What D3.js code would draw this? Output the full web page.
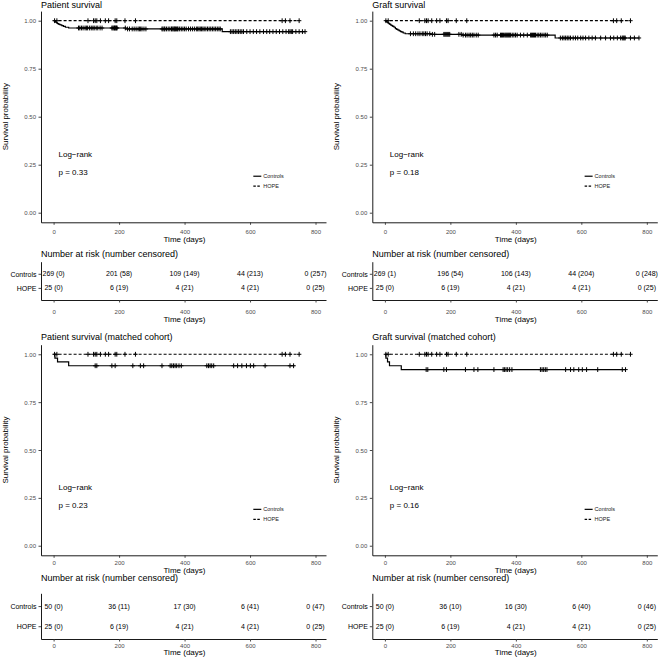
<!DOCTYPE html>
<html><head><meta charset="utf-8">
<script src="https://cdn.jsdelivr.net/npm/d3@7"></script>
<style>
body{margin:0;background:#fff}
svg{display:block}
text{font-family:"Liberation Sans",Arial,Helvetica,sans-serif}
</style>
</head><body>
<svg id="chart" width="658" height="658"></svg>
<script>
// ---------------- DATA ----------------
const groups = ["Controls", "HOPE"];
const panelTitles = ["Patient survival", "Graft survival",
  "Patient survival (matched cohort)", "Graft survival (matched cohort)"];
const logRankLabel = "Log\u2212rank";
const pLabels = ["p = 0.33", "p = 0.18", "p = 0.23", "p = 0.16"];
const timeTicks = [0, 200, 400, 600, 800];
const survTicks = [0, 0.25, 0.5, 0.75, 1];
const survTickLabels = ["0.00", "0.25", "0.50", "0.75", "1.00"];
const riskTitle = "Number at risk (number censored)";
const xTitle = "Time (days)";
const yTitle = "Survival probability";

// HOPE arm (same in all panels)
const hopeTimes = [0];
const hopeSurv = [1];
const hopeEnd = 750;
const hopeCensor = [3, 10, 105, 122, 127, 132, 143, 158, 168, 188, 193, 218, 250, 698, 708, 722, 750];
const hopeRisk = ["25 (0)", "6 (19)", "4 (21)", "4 (21)", "0 (25)"];

// Panel 1: Patient survival, Controls
const pat1Times = [0, 3, 6, 9, 12, 16, 20, 25, 30, 36, 46, 220, 515];
const pat1Surv = [1, 0.996, 0.993, 0.989, 0.985, 0.981, 0.978, 0.974, 0.970, 0.966, 0.962, 0.957, 0.943];
const pat1End = 768;
const pat1Censor = [76, 80, 85, 90, 96, 100, 104, 110, 115, 120, 124, 130, 135, 142, 148,
  178, 181, 184, 186, 188, 190, 192, 194,
  219, 226, 232, 240, 246, 252, 258, 262, 266, 270, 276, 282,
  331, 334, 338, 340, 345, 350, 355, 360, 362, 365, 368, 370, 372, 375, 378, 380, 385, 390,
  395, 400, 405, 412, 418, 424, 430, 436, 440, 444, 448, 452, 456, 460, 465, 470, 475, 480,
  485, 490, 495, 500, 505, 509,
  540, 545, 550, 555, 560, 565, 570, 575, 580, 590, 600, 610, 620, 630, 641,
  651, 660, 670, 680, 690, 700, 710, 718, 722, 726, 730, 740, 750, 760, 768];
const pat1Risk = ["269 (0)", "201 (58)", "109 (149)", "44 (213)", "0 (257)"];

// Panel 2: Graft survival, Controls
const gr1Times = [0, 3, 6, 9, 12, 15, 18, 21, 24, 28, 32, 36, 40, 44, 48, 52, 56, 62, 140, 235, 520];
const gr1Surv = [1, 0.996, 0.993, 0.989, 0.985, 0.981, 0.977, 0.974, 0.970, 0.966, 0.959, 0.955,
  0.951, 0.947, 0.943, 0.940, 0.936, 0.932, 0.929, 0.925, 0.910];
const gr1End = 776;
const gr1Censor = [78, 87, 94, 101, 107, 114, 119, 124, 129, 137, 145, 152,
  180, 183, 186, 189, 192, 195, 198,
  226, 233, 239, 246, 251, 257, 262, 267, 272, 279, 285,
  333, 338, 343, 353, 356, 359, 362, 366, 369, 372, 375, 378, 381, 384, 389, 394, 399, 404,
  414, 424, 435, 445, 448, 451, 454, 457, 460, 465, 470, 475, 480, 486, 491, 496,
  536, 542, 547, 552, 557, 562, 567, 575, 582, 589, 598, 605, 613, 623, 633, 643, 659, 674,
  689, 699, 710, 720, 725, 728, 731, 734, 750, 762, 776];
const gr1Risk = ["269 (1)", "196 (54)", "106 (143)", "44 (204)", "0 (248)"];

// Panel 3: Patient survival (matched), Controls
const pat2Times = [0, 4, 12, 46];
const pat2Surv = [1, 0.98, 0.96, 0.94];
const pat2End = 736;
const pat2Censor = [127, 132, 178, 188, 242, 265, 275, 331, 356, 361, 366, 371, 376, 383, 390,
  468, 473, 478, 483, 489, 550, 562, 575, 589, 601, 611, 646, 722, 733];
const pat2Risk = ["50 (0)", "36 (11)", "17 (30)", "6 (41)", "0 (47)"];

// Panel 4: Graft survival (matched), Controls
const gr2Times = [0, 3, 8, 14, 50];
const gr2Surv = [1, 0.98, 0.96, 0.94, 0.92];
const gr2End = 735;
const gr2Censor = [126, 131, 180, 188, 246, 272, 284, 333, 361, 365, 370, 375, 381, 388,
  475, 480, 485, 490, 495, 552, 567, 577, 592, 603, 616, 650, 725, 735];
const gr2Risk = ["50 (0)", "36 (10)", "16 (30)", "6 (40)", "0 (46)"];

// ---------------- LAYOUT ----------------
const cols = [
  {axisX: 41, right: 326, yTitleX: 5},
  {axisX: 372.3, right: 657.3, yTitleX: 336}
];
const rows = [
  {titleY: 5, plotTop: 11.1, plotBottom: 222.3, xLabY: 231.7, xTitleY: 239,
   tabTitleY: 254, tabTop: 261.7, tabBottom: 300, tabPad: 0.857, tabLabY: 311.7, tabTitleX: 318.7},
  {titleY: 337, plotTop: 344.7, plotBottom: 555.3, xLabY: 562.5, xTitleY: 570,
   tabTitleY: 578.3, tabTop: 593.3, tabBottom: 639, tabPad: 0.633, tabLabY: 645.7, tabTitleX: 652}
];

const panels = [
  {col: 0, row: 0, title: panelTitles[0], p: pLabels[0],
   ctrl: {t: pat1Times, s: pat1Surv, end: pat1End, c: pat1Censor}, ctrlRisk: pat1Risk},
  {col: 1, row: 0, title: panelTitles[1], p: pLabels[1],
   ctrl: {t: gr1Times, s: gr1Surv, end: gr1End, c: gr1Censor}, ctrlRisk: gr1Risk},
  {col: 0, row: 1, title: panelTitles[2], p: pLabels[2],
   ctrl: {t: pat2Times, s: pat2Surv, end: pat2End, c: pat2Censor}, ctrlRisk: pat2Risk},
  {col: 1, row: 1, title: panelTitles[3], p: pLabels[3],
   ctrl: {t: gr2Times, s: gr2Surv, end: gr2End, c: gr2Censor}, ctrlRisk: gr2Risk}
];
const hope = {t: hopeTimes, s: hopeSurv, end: hopeEnd, c: hopeCensor};

// ---------------- DRAW ----------------
const svg = d3.select("#chart");
const tickCol = "#4d4d4d";

function survAt(curve, time) {
  let v = curve.s[0];
  for (let i = 0; i < curve.t.length; i++) if (curve.t[i] <= time) v = curve.s[i];
  return v;
}

function styleAxis(g) {
  g.select(".domain").attr("stroke", "#000").attr("stroke-width", 0.9);
  g.selectAll(".tick line").attr("stroke", "#333").attr("stroke-width", 0.9);
  g.selectAll(".tick text").attr("fill", tickCol).style("font-size", "6px")
    .attr("font-family", null);
}

panels.forEach(pn => {
  const C = cols[pn.col], R = rows[pn.row];
  const x = d3.scaleLinear().domain([-38.5, 832]).range([C.axisX, C.right]);
  const y = d3.scaleLinear().domain([-0.05, 1.05]).range([R.plotBottom, R.plotTop]);
  const g = svg.append("g");

  // title
  g.append("text").attr("x", C.axisX).attr("y", R.titleY).attr("dy", "0.35em")
    .style("font-size", "9px").attr("fill", "#000").text(pn.title);

  // axes
  const yAx = g.append("g").attr("transform", `translate(${C.axisX},0)`)
    .call(d3.axisLeft(y).tickValues(survTicks).tickFormat((d, i) => survTickLabels[i])
      .tickSize(2.5).tickSizeOuter(0).tickPadding(2.5));
  styleAxis(yAx);
  yAx.selectAll(".tick text").attr("dy", "0.35em");
  const xAx = g.append("g").attr("transform", `translate(0,${R.plotBottom})`)
    .call(d3.axisBottom(x).tickValues(timeTicks).tickFormat(d3.format("d"))
      .tickSize(2.5).tickSizeOuter(0).tickPadding(0));
  styleAxis(xAx);
  xAx.selectAll(".tick text").attr("y", R.xLabY - R.plotBottom).attr("dy", "0.35em");

  g.append("text").attr("x", (C.axisX + C.right) / 2 + 1).attr("y", R.xTitleY).attr("dy", "0.35em")
    .attr("text-anchor", "middle").style("font-size", "8px").text(xTitle);
  g.append("text").attr("transform", `translate(${C.yTitleX},${(R.plotTop + R.plotBottom) / 2}) rotate(-90)`)
    .attr("dy", "0.35em").attr("text-anchor", "middle").style("font-size", "8px").text(yTitle);

  // curves
  const line = d3.line().x(d => x(d[0])).y(d => y(d[1])).curve(d3.curveStepAfter);
  const curves = [{cv: pn.ctrl, dash: null}, {cv: hope, dash: "3,2"}];
  curves.forEach(({cv, dash}) => {
    const pts = cv.t.map((t, i) => [t, cv.s[i]]);
    pts.push([cv.end, cv.s[cv.s.length - 1]]);
    g.append("path").attr("d", line(pts)).attr("fill", "none").attr("stroke", "#000")
      .attr("stroke-width", 1.2).attr("stroke-dasharray", dash);
    g.append("g").selectAll("path").data(cv.c).join("path")
      .attr("d", d => {
        const px = x(d), py = y(survAt(cv, d));
        return `M${px - 2.2},${py}H${px + 2.2}M${px},${py - 2.4}V${py + 2.4}`;
      })
      .attr("stroke", "#000").attr("stroke-width", 1);
  });

  // log-rank annotation
  g.append("text").attr("x", x(15)).attr("y", y(0.306)).attr("dy", "0.35em")
    .style("font-size", "8px").text(logRankLabel);
  g.append("text").attr("x", x(15)).attr("y", y(0.212)).attr("dy", "0.35em")
    .style("font-size", "8px").text(pn.p);

  // legend
  groups.forEach((grp, i) => {
    const ly = y(0.19 - i * 0.052);
    const lx = x(610);
    g.append("line").attr("x1", lx).attr("x2", lx + 8).attr("y1", ly).attr("y2", ly)
      .attr("stroke", "#000").attr("stroke-width", 1.2).attr("stroke-dasharray", i === 1 ? "2.5,1.5" : null);
    g.append("text").attr("x", lx + 10).attr("y", ly).attr("dy", "0.35em")
      .style("font-size", "5.5px").attr("fill", "#222").text(grp);
  });

  // risk table
  g.append("text").attr("x", C.axisX).attr("y", R.tabTitleY).attr("dy", "0.35em")
    .style("font-size", "9px").text(riskTitle);
  const yr = d3.scalePoint().domain(groups).range([R.tabTop, R.tabBottom]).padding(R.tabPad);
  const yrAx = g.append("g").attr("transform", `translate(${C.axisX},0)`)
    .call(d3.axisLeft(yr).tickSize(2.5).tickSizeOuter(0).tickPadding(2));
  styleAxis(yrAx);
  yrAx.selectAll(".tick text").style("font-size", "7px").attr("fill", "#000").attr("dy", "0.35em");
  const xrAx = g.append("g").attr("transform", `translate(0,${R.tabBottom})`)
    .call(d3.axisBottom(x).tickValues(timeTicks).tickFormat(d3.format("d"))
      .tickSize(2.5).tickSizeOuter(0).tickPadding(0));
  styleAxis(xrAx);
  xrAx.selectAll(".tick text").attr("y", R.tabLabY - R.tabBottom).attr("dy", "0.35em");
  g.append("text").attr("x", (C.axisX + C.right) / 2 + 1).attr("y", R.tabTitleX).attr("dy", "0.35em")
    .attr("text-anchor", "middle").style("font-size", "8px").text(xTitle);

  const riskRows = [{grp: groups[0], vals: pn.ctrlRisk}, {grp: groups[1], vals: hopeRisk}];
  riskRows.forEach(rr => {
    g.append("g").selectAll("text").data(rr.vals).join("text")
      .attr("x", (d, i) => x(timeTicks[i])).attr("y", yr(rr.grp)).attr("dy", "0.35em")
      .attr("text-anchor", "middle").style("font-size", "7px").text(d => d);
  });
});
</script>
</body></html>
